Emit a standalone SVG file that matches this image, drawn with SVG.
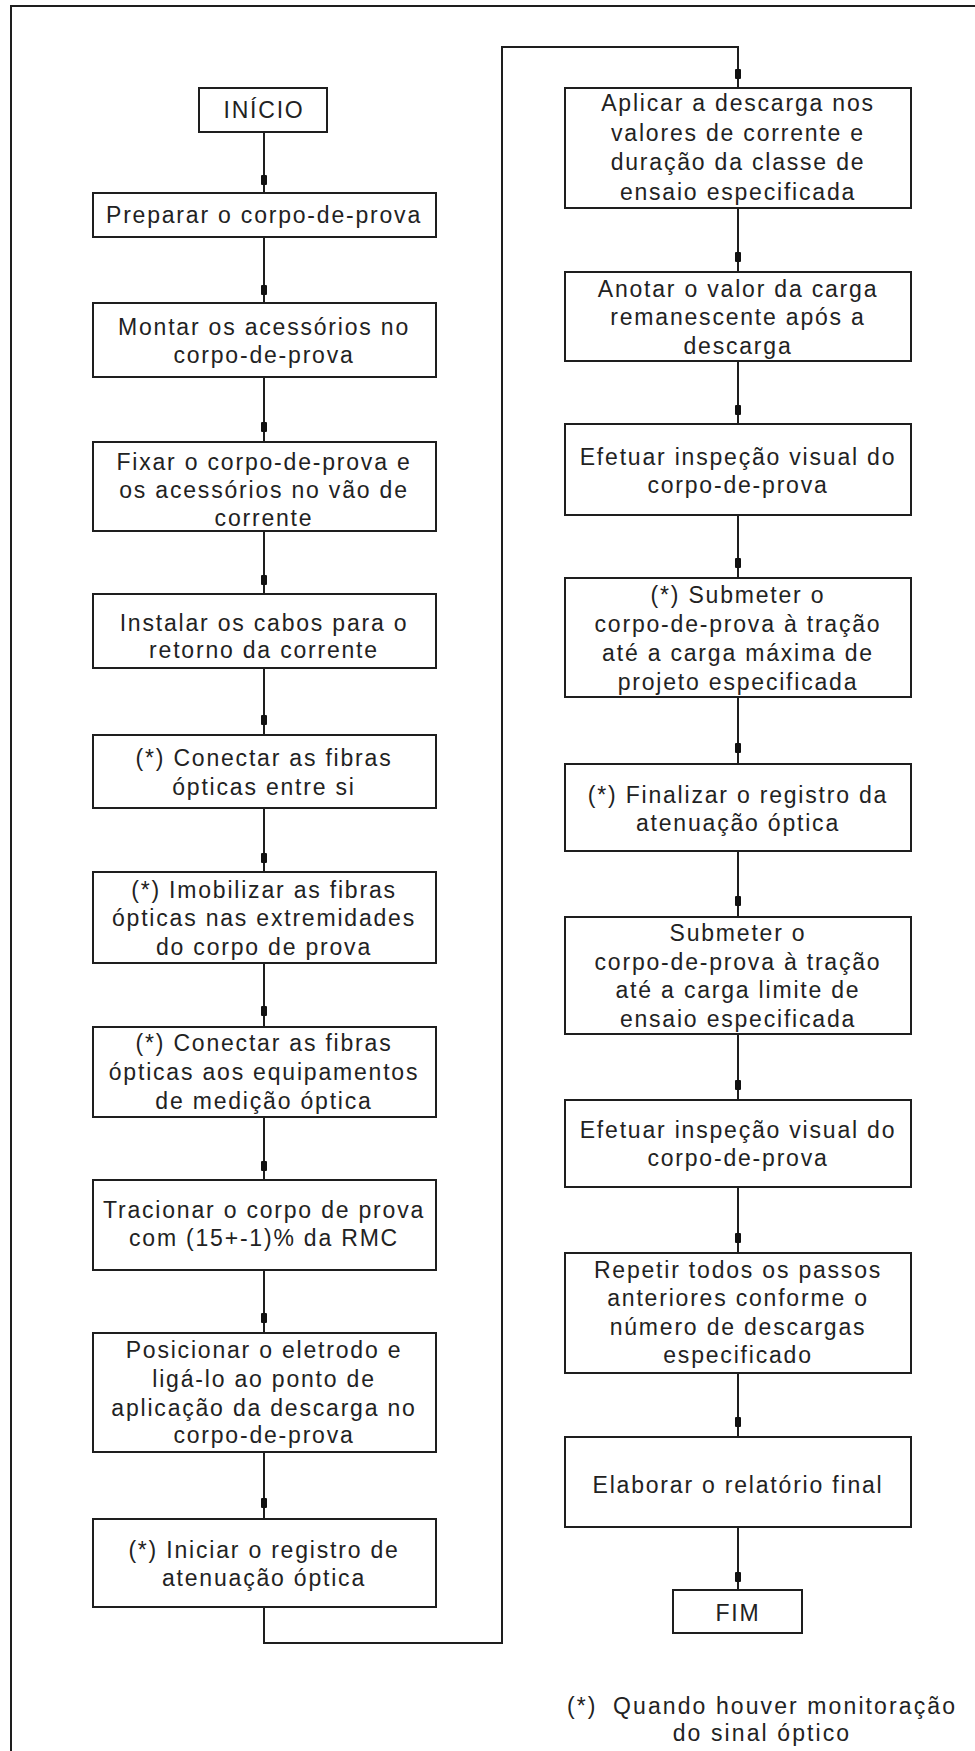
<svg xmlns="http://www.w3.org/2000/svg" width="975" height="1751" viewBox="0 0 975 1751">
  <style>
    .frame { fill: none; stroke: #1e1e1e; stroke-width: 2; }
    .box { fill: #ffffff; stroke: #1e1e1e; stroke-width: 2; }
    .wire { fill: none; stroke: #1e1e1e; stroke-width: 2; }
    .tip { fill: #111111; }
    .t { font-family: "Liberation Sans", Arial, sans-serif; font-size: 23px; letter-spacing: 1.8px; fill: #222222; text-anchor: middle; }
    .note { font-family: "Liberation Sans", Arial, sans-serif; font-size: 23px; letter-spacing: 2.1px; fill: #222222; }
  </style>

  <rect width="975" height="1751" fill="#ffffff"/>
  <!-- page frame: only the top and left edges fall inside the sheet -->
  <rect class="frame" x="11" y="6" width="1000" height="1800"/>

  <!-- connectors -->
  <g id="connectors">
    <!-- left column -->
    <line class="wire" x1="264" y1="132" x2="264" y2="193"/>
    <rect class="tip" x="261" y="175" width="6" height="10" rx="1"/>
    <line class="wire" x1="264" y1="237" x2="264" y2="303"/>
    <rect class="tip" x="261" y="285" width="6" height="10" rx="1"/>
    <line class="wire" x1="264" y1="377" x2="264" y2="442"/>
    <rect class="tip" x="261" y="422" width="6" height="10" rx="1"/>
    <line class="wire" x1="264" y1="531" x2="264" y2="594"/>
    <rect class="tip" x="261" y="575" width="6" height="10" rx="1"/>
    <line class="wire" x1="264" y1="668" x2="264" y2="735"/>
    <rect class="tip" x="261" y="715" width="6" height="10" rx="1"/>
    <line class="wire" x1="264" y1="808" x2="264" y2="872"/>
    <rect class="tip" x="261" y="853" width="6" height="10" rx="1"/>
    <line class="wire" x1="264" y1="963" x2="264" y2="1027"/>
    <rect class="tip" x="261" y="1006" width="6" height="10" rx="1"/>
    <line class="wire" x1="264" y1="1117" x2="264" y2="1180"/>
    <rect class="tip" x="261" y="1161" width="6" height="10" rx="1"/>
    <line class="wire" x1="264" y1="1270" x2="264" y2="1333"/>
    <rect class="tip" x="261" y="1313" width="6" height="10" rx="1"/>
    <line class="wire" x1="264" y1="1452" x2="264" y2="1519"/>
    <rect class="tip" x="261" y="1498" width="6" height="10" rx="1"/>
    <!-- hand-over from the left column to the right column -->
    <polyline class="wire" points="264,1607 264,1643 502,1643 502,47 738,47 738,88"/>
    <rect class="tip" x="735" y="69" width="6" height="10" rx="1"/>
    <!-- right column -->
    <line class="wire" x1="738" y1="208" x2="738" y2="272"/>
    <rect class="tip" x="735" y="252" width="6" height="10" rx="1"/>
    <line class="wire" x1="738" y1="361" x2="738" y2="424"/>
    <rect class="tip" x="735" y="405" width="6" height="10" rx="1"/>
    <line class="wire" x1="738" y1="515" x2="738" y2="578"/>
    <rect class="tip" x="735" y="558" width="6" height="10" rx="1"/>
    <line class="wire" x1="738" y1="697" x2="738" y2="764"/>
    <rect class="tip" x="735" y="743" width="6" height="10" rx="1"/>
    <line class="wire" x1="738" y1="851" x2="738" y2="917"/>
    <rect class="tip" x="735" y="896" width="6" height="10" rx="1"/>
    <line class="wire" x1="738" y1="1034" x2="738" y2="1100"/>
    <rect class="tip" x="735" y="1080" width="6" height="10" rx="1"/>
    <line class="wire" x1="738" y1="1187" x2="738" y2="1253"/>
    <rect class="tip" x="735" y="1233" width="6" height="10" rx="1"/>
    <line class="wire" x1="738" y1="1373" x2="738" y2="1437"/>
    <rect class="tip" x="735" y="1417" width="6" height="10" rx="1"/>
    <line class="wire" x1="738" y1="1527" x2="738" y2="1590"/>
    <rect class="tip" x="735" y="1572" width="6" height="10" rx="1"/>
  </g>

  <!-- left column steps -->
  <g id="inicio">
    <rect class="box" x="199" y="88" width="128" height="44"/>
    <text class="t" x="264" y="118">INÍCIO</text>
  </g>
  <g id="preparar">
    <rect class="box" x="93" y="193" width="343" height="44"/>
    <text class="t" x="264" y="223">Preparar o corpo-de-prova</text>
  </g>
  <g id="montar">
    <rect class="box" x="93" y="303" width="343" height="74"/>
    <text class="t" x="264" y="335">Montar os acessórios no</text>
    <text class="t" x="264" y="363">corpo-de-prova</text>
  </g>
  <g id="fixar">
    <rect class="box" x="93" y="442" width="343" height="89"/>
    <text class="t" x="264" y="470">Fixar o corpo-de-prova e</text>
    <text class="t" x="264" y="498">os acessórios no vão de</text>
    <text class="t" x="264" y="526">corrente</text>
  </g>
  <g id="instalar">
    <rect class="box" x="93" y="594" width="343" height="74"/>
    <text class="t" x="264" y="631">Instalar os cabos para o</text>
    <text class="t" x="264" y="658">retorno da corrente</text>
  </g>
  <g id="conectar-entre-si">
    <rect class="box" x="93" y="735" width="343" height="73"/>
    <text class="t" x="264" y="766">(*) Conectar as fibras</text>
    <text class="t" x="264" y="795">ópticas entre si</text>
  </g>
  <g id="imobilizar">
    <rect class="box" x="93" y="872" width="343" height="91"/>
    <text class="t" x="264" y="898">(*) Imobilizar as fibras</text>
    <text class="t" x="264" y="926">ópticas nas extremidades</text>
    <text class="t" x="264" y="955">do corpo de prova</text>
  </g>
  <g id="conectar-equipamentos">
    <rect class="box" x="93" y="1027" width="343" height="90"/>
    <text class="t" x="264" y="1051">(*) Conectar as fibras</text>
    <text class="t" x="264" y="1080">ópticas aos equipamentos</text>
    <text class="t" x="264" y="1109">de medição óptica</text>
  </g>
  <g id="tracionar">
    <rect class="box" x="93" y="1180" width="343" height="90"/>
    <text class="t" x="264" y="1218">Tracionar o corpo de prova</text>
    <text class="t" x="264" y="1246">com (15+-1)% da RMC</text>
  </g>
  <g id="posicionar">
    <rect class="box" x="93" y="1333" width="343" height="119"/>
    <text class="t" x="264" y="1358">Posicionar o eletrodo e</text>
    <text class="t" x="264" y="1387">ligá-lo ao ponto de</text>
    <text class="t" x="264" y="1416">aplicação da descarga no</text>
    <text class="t" x="264" y="1443">corpo-de-prova</text>
  </g>
  <g id="iniciar-registro">
    <rect class="box" x="93" y="1519" width="343" height="88"/>
    <text class="t" x="264" y="1558">(*) Iniciar o registro de</text>
    <text class="t" x="264" y="1586">atenuação óptica</text>
  </g>

  <!-- right column steps -->
  <g id="aplicar">
    <rect class="box" x="565" y="88" width="346" height="120"/>
    <text class="t" x="738" y="111">Aplicar a descarga nos</text>
    <text class="t" x="738" y="141">valores de corrente e</text>
    <text class="t" x="738" y="170">duração da classe de</text>
    <text class="t" x="738" y="200">ensaio especificada</text>
  </g>
  <g id="anotar">
    <rect class="box" x="565" y="272" width="346" height="89"/>
    <text class="t" x="738" y="297">Anotar o valor da carga</text>
    <text class="t" x="738" y="325">remanescente após a</text>
    <text class="t" x="738" y="354">descarga</text>
  </g>
  <g id="inspecao-1">
    <rect class="box" x="565" y="424" width="346" height="91"/>
    <text class="t" x="738" y="465">Efetuar inspeção visual do</text>
    <text class="t" x="738" y="493">corpo-de-prova</text>
  </g>
  <g id="submeter-maxima">
    <rect class="box" x="565" y="578" width="346" height="119"/>
    <text class="t" x="738" y="603">(*) Submeter o</text>
    <text class="t" x="738" y="632">corpo-de-prova à tração</text>
    <text class="t" x="738" y="661">até a carga máxima de</text>
    <text class="t" x="738" y="690">projeto especificada</text>
  </g>
  <g id="finalizar-registro">
    <rect class="box" x="565" y="764" width="346" height="87"/>
    <text class="t" x="738" y="803">(*) Finalizar o registro da</text>
    <text class="t" x="738" y="831">atenuação óptica</text>
  </g>
  <g id="submeter-limite">
    <rect class="box" x="565" y="917" width="346" height="117"/>
    <text class="t" x="738" y="941">Submeter o</text>
    <text class="t" x="738" y="970">corpo-de-prova à tração</text>
    <text class="t" x="738" y="998">até a carga limite de</text>
    <text class="t" x="738" y="1027">ensaio especificada</text>
  </g>
  <g id="inspecao-2">
    <rect class="box" x="565" y="1100" width="346" height="87"/>
    <text class="t" x="738" y="1138">Efetuar inspeção visual do</text>
    <text class="t" x="738" y="1166">corpo-de-prova</text>
  </g>
  <g id="repetir">
    <rect class="box" x="565" y="1253" width="346" height="120"/>
    <text class="t" x="738" y="1278">Repetir todos os passos</text>
    <text class="t" x="738" y="1306">anteriores conforme o</text>
    <text class="t" x="738" y="1335">número de descargas</text>
    <text class="t" x="738" y="1363">especificado</text>
  </g>
  <g id="relatorio">
    <rect class="box" x="565" y="1437" width="346" height="90"/>
    <text class="t" x="738" y="1493">Elaborar o relatório final</text>
  </g>
  <g id="fim">
    <rect class="box" x="673" y="1590" width="129" height="43"/>
    <text class="t" x="738" y="1621">FIM</text>
  </g>

  <!-- footnote -->
  <g id="nota">
    <text class="note" x="567" y="1714">(*)</text>
    <text class="note" x="613" y="1714">Quando houver monitoração</text>
    <text class="note" x="762" y="1741" text-anchor="middle">do sinal óptico</text>
  </g>
</svg>
